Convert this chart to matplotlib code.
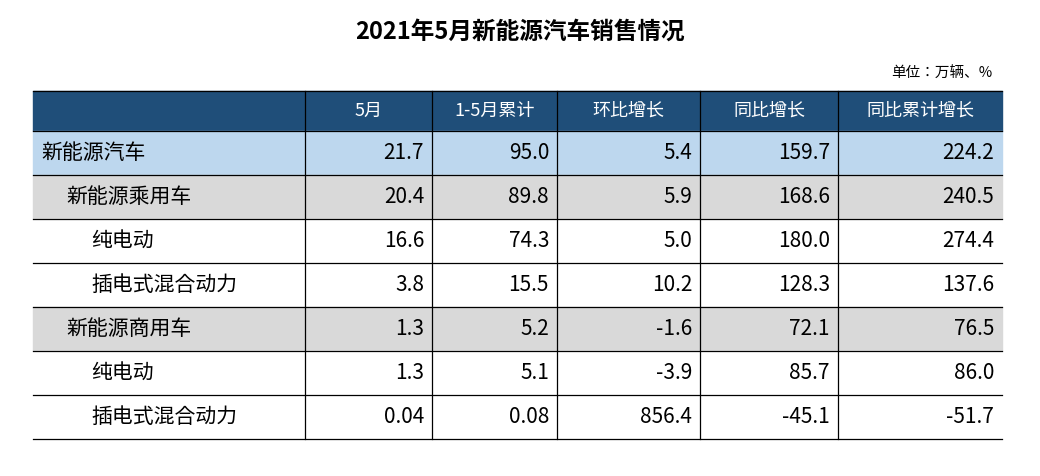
import matplotlib
matplotlib.use("Agg")
import matplotlib.pyplot as plt
from matplotlib.patches import Rectangle
from matplotlib import font_manager

cands = [f.name for f in font_manager.fontManager.ttflist if "CJK" in f.name]
fams = ["Noto Sans CJK SC", "Noto Sans CJK JP", "Noto Sans CJK TC", "Noto Sans CJK KR"] + cands
fams = [f for f in dict.fromkeys(fams) if f in set(x.name for x in font_manager.fontManager.ttflist)]
plt.rcParams["font.family"] = fams + ["DejaVu Sans"] if fams else ["DejaVu Sans"]

title = "2021年5月新能源汽车销售情况"
unit = "单位：万辆、%"
columns = ["5月", "1-5月累计", "环比增长", "同比增长", "同比累计增长"]
row_labels = ["新能源汽车", "新能源乘用车", "纯电动", "插电式混合动力", "新能源商用车", "纯电动", "插电式混合动力"]
indent = [0, 1, 2, 2, 1, 2, 2]
values = [
    ["21.7", "95.0", "5.4", "159.7", "224.2"],
    ["20.4", "89.8", "5.9", "168.6", "240.5"],
    ["16.6", "74.3", "5.0", "180.0", "274.4"],
    ["3.8", "15.5", "10.2", "128.3", "137.6"],
    ["1.3", "5.2", "-1.6", "72.1", "76.5"],
    ["1.3", "5.1", "-3.9", "85.7", "86.0"],
    ["0.04", "0.08", "856.4", "-45.1", "-51.7"],
]
row_colors = ["#BDD7EE", "#D9D9D9", "white", "white", "#D9D9D9", "white", "white"]

W, H = 1040, 476
fig = plt.figure(figsize=(W / 100, H / 100), dpi=100)
ax = fig.add_axes([0, 0, 1, 1])
ax.set_xlim(0, W)
ax.set_ylim(H, 0)
ax.axis("off")

xs = [33, 305, 432, 557, 700, 838, 1002]
top, hh, rh = 91, 40, 44

ax.text(520, 32, title, ha="center", va="center", fontsize=17, fontweight="bold")
ax.text(992, 74, unit, ha="right", va="center", fontsize=10.5)

ax.add_patch(Rectangle((xs[0], top), xs[-1] - xs[0], hh, color="#1F4E79"))
for j, c in enumerate(columns):
    ax.text((xs[j + 1] + xs[j + 2]) / 2, top + hh / 2, c, ha="center", va="center",
            color="white", fontsize=13)
y0 = top + hh
for i, lab in enumerate(row_labels):
    y = y0 + i * rh
    ax.add_patch(Rectangle((xs[0], y), xs[-1] - xs[0], rh, color=row_colors[i]))
    ax.text(xs[0] + 8 + indent[i] * 25, y + rh / 2, lab, ha="left", va="center", fontsize=15)
    for j, v in enumerate(values[i]):
        ax.text(xs[j + 2] - 8, y + rh / 2, v, ha="right", va="center", fontsize=15)
    ax.plot([xs[0], xs[-1]], [y, y], color="black", lw=0.9)
yb = y0 + len(row_labels) * rh
ax.plot([xs[0], xs[-1]], [yb, yb], color="black", lw=0.9)
ax.plot([xs[0], xs[-1]], [top, top], color="black", lw=0.9)
for x in xs[1:-1]:
    ax.plot([x, x], [top, yb], color="black", lw=0.9)

fig.savefig("out.png", dpi=100)
